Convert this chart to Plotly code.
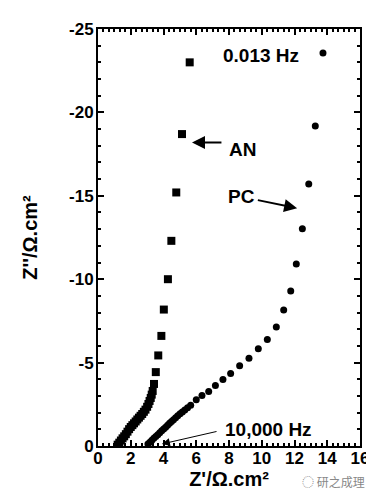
import plotly.graph_objects as go

# AN electrolyte (squares): Z' and Z'' in ohm.cm2
an_x = [1.20, 1.30, 1.40, 1.50, 1.60, 1.70, 1.80, 1.90, 2.00, 2.10, 2.20, 2.30, 2.40, 2.50,
        2.60, 2.70, 2.80, 2.90, 3.00, 3.08, 3.15, 3.22, 3.28, 3.34, 3.42, 3.53, 3.68, 3.87,
        4.02, 4.27, 4.48, 4.78, 5.13, 5.60]
an_y = [-0.08, -0.20, -0.33, -0.46, -0.58, -0.71, -0.86, -1.01, -1.14, -1.25, -1.36, -1.47,
        -1.59, -1.70, -1.81, -1.92, -2.05, -2.18, -2.35, -2.52, -2.70, -2.88, -3.08, -3.30,
        -3.72, -4.43, -5.43, -6.60, -8.18, -10.0, -12.3, -15.2, -18.7, -23.0]

# PC electrolyte (circles)
pc_x = [3.05, 3.17, 3.29, 3.41, 3.53, 3.65, 3.77, 3.89, 4.01, 4.13, 4.25, 4.37, 4.49, 4.61,
        4.74, 4.87, 5.01, 5.15, 5.30, 5.47, 5.66, 6.00, 6.35, 6.76, 7.17, 7.63, 8.10, 8.65,
        9.22, 9.79, 10.34, 10.89, 11.34, 11.77, 12.11, 12.48, 12.87, 13.27, 13.74]
pc_y = [-0.12, -0.23, -0.35, -0.46, -0.57, -0.68, -0.80, -0.91, -1.02, -1.13, -1.25, -1.36,
        -1.47, -1.58, -1.70, -1.81, -1.93, -2.04, -2.16, -2.29, -2.44, -2.78, -3.03, -3.27,
        -3.62, -3.98, -4.35, -4.81, -5.26, -5.83, -6.38, -7.13, -8.16, -9.30, -10.91, -13.02,
        -15.70, -19.19, -23.56]

x_ticks = [0, 2, 4, 6, 8, 10, 12, 14, 16]
x_tick_labels = ["0", "2", "4", "6", "8", "10", "12", "14", "16"]
y_ticks = [0, -5, -10, -15, -20, -25]
y_tick_labels = ["0", "-5", "-10", "-15", "-20", "-25"]

FONT = "Liberation Sans, Arial, Helvetica, sans-serif"

fig = go.Figure()
fig.add_trace(go.Scatter(x=an_x, y=an_y, mode="markers", name="AN",
                         marker=dict(symbol="square", size=8, color="black")))
fig.add_trace(go.Scatter(x=pc_x, y=pc_y, mode="markers", name="PC",
                         marker=dict(symbol="circle", size=7, color="black")))

axis_common = dict(
    showline=True, linecolor="black", linewidth=2, mirror="allticks",
    ticks="inside", ticklen=6, tickwidth=1.5, tickcolor="black",
    showgrid=False, zeroline=False,
    tickfont=dict(family=FONT, size=17, color="black", weight="bold"),
)

fig.update_layout(
    width=374, height=500,
    margin=dict(l=90, r=22, t=15, b=62),
    paper_bgcolor="white", plot_bgcolor="white",
    showlegend=False,
    xaxis=dict(range=[0, 16], tickvals=x_ticks, ticktext=x_tick_labels,
               ticklabelstandoff=-4,
               minor=dict(dtick=1/3, ticks="inside", ticklen=3, tickcolor="black"),
               title=dict(text="Z'/Ω.cm²", standoff=0,
                          font=dict(family=FONT, size=20, color="black", weight="bold")),
               **axis_common),
    yaxis=dict(range=[0, -25], tickvals=y_ticks, ticktext=y_tick_labels,
               ticklabelstandoff=-1,
               minor=dict(dtick=1, ticks="inside", ticklen=3, tickcolor="black"),
               title=dict(text="Z''/Ω.cm²", standoff=26,
                          font=dict(family=FONT, size=20, color="black", weight="bold")),
               **axis_common),
)

afont = dict(family=FONT, size=19, color="black", weight="bold")
# text labels
fig.add_annotation(x=9.98, y=-23.42, text="0.013 Hz", showarrow=False, font=afont)
fig.add_annotation(x=8.85, y=-17.8, text="AN", showarrow=False, font=afont)
fig.add_annotation(x=8.75, y=-14.95, text="PC", showarrow=False, font=afont)
fig.add_annotation(x=10.4, y=-1.0, text="10,000 Hz", showarrow=False, font=afont)
# arrows
fig.add_annotation(x=5.74, y=-18.2, ax=7.63, ay=-18.2, axref="x", ayref="y",
                   text="", showarrow=True, arrowhead=2, arrowsize=1.3, arrowwidth=2,
                   arrowcolor="black")
fig.add_annotation(x=12.16, y=-14.26, ax=9.67, ay=-14.76, axref="x", ayref="y",
                   text="", showarrow=True, arrowhead=2, arrowsize=1.3, arrowwidth=2,
                   arrowcolor="black")
fig.add_annotation(x=3.9, y=-0.12, ax=7.33, ay=-0.89, axref="x", ayref="y",
                   text="", showarrow=True, arrowhead=2, arrowsize=1.6, arrowwidth=1,
                   arrowcolor="black")
# watermark
fig.add_annotation(xref="paper", yref="paper", x=1.025, y=-0.085, xanchor="right",
                   yanchor="middle", text="◌ 研之成理", showarrow=False,
                   font=dict(family="Noto Sans CJK SC", size=12, color="#888888"))

fig.write_html("out.html")
